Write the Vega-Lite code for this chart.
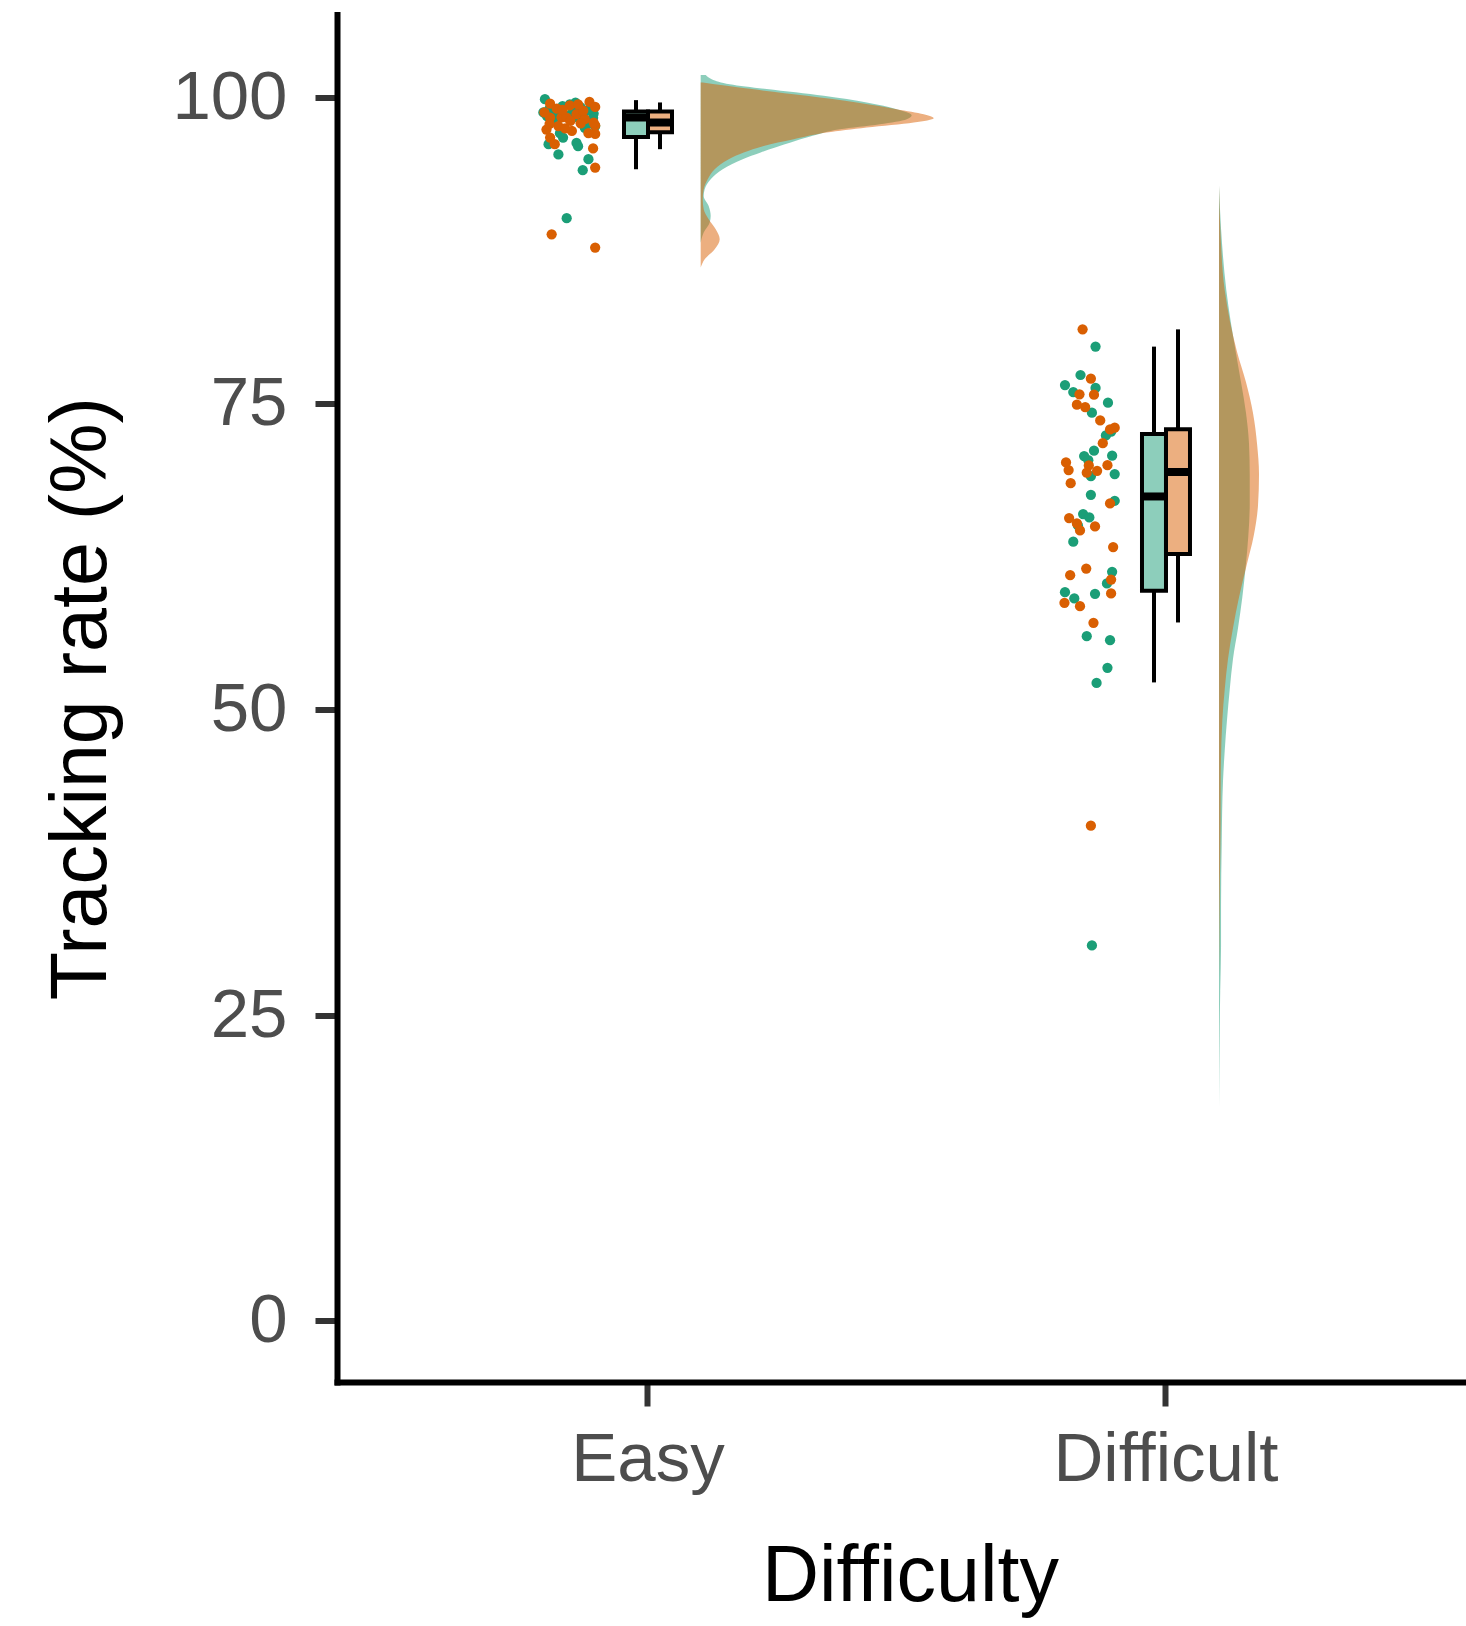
{
  "$schema": "https://vega.github.io/schema/vega-lite/v6.json",
  "width": 1129,
  "height": 1367.5,
  "autosize": {"type": "none"},
  "padding": {"left": 337, "top": 14.5, "right": 0, "bottom": 244},
  "background": "white",
  "config": {
    "view": {"stroke": null},
    "font": "Liberation Sans",
    "axis": {"grid": false},
    "axisY": {"domainColor": "black", "domainWidth": 6, "domainCap": "square", "tickColor": "#333333", "tickWidth": 6, "tickSize": 22,
              "labelFontSize": 69, "labelColor": "#4D4D4D", "labelPadding": 28, "labelFont": "Liberation Sans", "titleFont": "Liberation Sans",
              "titleFontSize": 79, "titleColor": "black", "titleFontWeight": "normal", "titleBaseline": "alphabetic"},
    "axisX": {"domainColor": "black", "domainWidth": 6, "domainCap": "square", "tickColor": "#333333", "tickWidth": 6, "tickSize": 24,
              "labelFontSize": 69, "labelColor": "#4D4D4D", "labelPadding": 19, "labelFont": "Liberation Sans", "titleFont": "Liberation Sans",
              "labelLimit": 1000, "labelAngle": 0,
              "titleFontSize": 79, "titleColor": "black", "titleFontWeight": "normal", "titleBaseline": "alphabetic"}
  },
  "datasets": {
    "points": [
      {"Difficulty": "Easy", "Group": "Group 1", "jitter": -0.199, "rate": 99.88},
      {"Difficulty": "Easy", "Group": "Group 1", "jitter": -0.202, "rate": 98.79},
      {"Difficulty": "Easy", "Group": "Group 1", "jitter": -0.151, "rate": 99.46},
      {"Difficulty": "Easy", "Group": "Group 1", "jitter": -0.135, "rate": 98.9},
      {"Difficulty": "Easy", "Group": "Group 1", "jitter": -0.106, "rate": 98.36},
      {"Difficulty": "Easy", "Group": "Group 1", "jitter": -0.102, "rate": 97.68},
      {"Difficulty": "Easy", "Group": "Group 1", "jitter": -0.122, "rate": 97.54},
      {"Difficulty": "Easy", "Group": "Group 1", "jitter": -0.192, "rate": 96.2},
      {"Difficulty": "Easy", "Group": "Group 1", "jitter": -0.164, "rate": 96.74},
      {"Difficulty": "Easy", "Group": "Group 1", "jitter": -0.138, "rate": 96.3},
      {"Difficulty": "Easy", "Group": "Group 1", "jitter": -0.135, "rate": 96.03},
      {"Difficulty": "Easy", "Group": "Group 1", "jitter": -0.173, "rate": 95.36},
      {"Difficulty": "Easy", "Group": "Group 1", "jitter": -0.115, "rate": 94.97},
      {"Difficulty": "Easy", "Group": "Group 1", "jitter": -0.126, "rate": 94.07},
      {"Difficulty": "Easy", "Group": "Group 1", "jitter": -0.157, "rate": 90.15},
      {"Difficulty": "Easy", "Group": "Group 1", "jitter": -0.17, "rate": 98.38},
      {"Difficulty": "Easy", "Group": "Group 1", "jitter": -0.17, "rate": 97.1},
      {"Difficulty": "Easy", "Group": "Group 1", "jitter": -0.11, "rate": 97.9},
      {"Difficulty": "Easy", "Group": "Group 1", "jitter": -0.185, "rate": 98.1},
      {"Difficulty": "Easy", "Group": "Group 1", "jitter": -0.14, "rate": 98.42},
      {"Difficulty": "Easy", "Group": "Group 1", "jitter": -0.195, "rate": 98.5},
      {"Difficulty": "Easy", "Group": "Group 1", "jitter": -0.125, "rate": 98.55},
      {"Difficulty": "Easy", "Group": "Group 1", "jitter": -0.16, "rate": 98.6},
      {"Difficulty": "Easy", "Group": "Group 1", "jitter": -0.105, "rate": 98.7},
      {"Difficulty": "Easy", "Group": "Group 1", "jitter": -0.18, "rate": 98.8},
      {"Difficulty": "Easy", "Group": "Group 1", "jitter": -0.145, "rate": 98.85},
      {"Difficulty": "Easy", "Group": "Group 1", "jitter": -0.115, "rate": 99.0},
      {"Difficulty": "Easy", "Group": "Group 1", "jitter": -0.19, "rate": 99.1},
      {"Difficulty": "Easy", "Group": "Group 1", "jitter": -0.13, "rate": 99.2},
      {"Difficulty": "Easy", "Group": "Group 1", "jitter": -0.165, "rate": 99.3},
      {"Difficulty": "Easy", "Group": "Group 1", "jitter": -0.14, "rate": 99.6},
      {"Difficulty": "Difficult", "Group": "Group 1", "jitter": -0.136, "rate": 79.65},
      {"Difficulty": "Difficult", "Group": "Group 1", "jitter": -0.165, "rate": 77.33},
      {"Difficulty": "Difficult", "Group": "Group 1", "jitter": -0.195, "rate": 76.51},
      {"Difficulty": "Difficult", "Group": "Group 1", "jitter": -0.136, "rate": 76.27},
      {"Difficulty": "Difficult", "Group": "Group 1", "jitter": -0.179, "rate": 75.94},
      {"Difficulty": "Difficult", "Group": "Group 1", "jitter": -0.112, "rate": 75.07},
      {"Difficulty": "Difficult", "Group": "Group 1", "jitter": -0.143, "rate": 74.25},
      {"Difficulty": "Difficult", "Group": "Group 1", "jitter": -0.106, "rate": 72.7},
      {"Difficulty": "Difficult", "Group": "Group 1", "jitter": -0.116, "rate": 72.39},
      {"Difficulty": "Difficult", "Group": "Group 1", "jitter": -0.139, "rate": 71.14},
      {"Difficulty": "Difficult", "Group": "Group 1", "jitter": -0.158, "rate": 70.7},
      {"Difficulty": "Difficult", "Group": "Group 1", "jitter": -0.104, "rate": 70.73},
      {"Difficulty": "Difficult", "Group": "Group 1", "jitter": -0.15, "rate": 70.37},
      {"Difficulty": "Difficult", "Group": "Group 1", "jitter": -0.145, "rate": 69.06},
      {"Difficulty": "Difficult", "Group": "Group 1", "jitter": -0.099, "rate": 69.23},
      {"Difficulty": "Difficult", "Group": "Group 1", "jitter": -0.145, "rate": 67.54},
      {"Difficulty": "Difficult", "Group": "Group 1", "jitter": -0.099, "rate": 67.05},
      {"Difficulty": "Difficult", "Group": "Group 1", "jitter": -0.16, "rate": 65.96},
      {"Difficulty": "Difficult", "Group": "Group 1", "jitter": -0.148, "rate": 65.69},
      {"Difficulty": "Difficult", "Group": "Group 1", "jitter": -0.17, "rate": 65.03},
      {"Difficulty": "Difficult", "Group": "Group 1", "jitter": -0.179, "rate": 63.7},
      {"Difficulty": "Difficult", "Group": "Group 1", "jitter": -0.104, "rate": 61.24},
      {"Difficulty": "Difficult", "Group": "Group 1", "jitter": -0.114, "rate": 60.29},
      {"Difficulty": "Difficult", "Group": "Group 1", "jitter": -0.195, "rate": 59.58},
      {"Difficulty": "Difficult", "Group": "Group 1", "jitter": -0.137, "rate": 59.44},
      {"Difficulty": "Difficult", "Group": "Group 1", "jitter": -0.177, "rate": 59.06},
      {"Difficulty": "Difficult", "Group": "Group 1", "jitter": -0.153, "rate": 55.98},
      {"Difficulty": "Difficult", "Group": "Group 1", "jitter": -0.108, "rate": 55.65},
      {"Difficulty": "Difficult", "Group": "Group 1", "jitter": -0.113, "rate": 53.39},
      {"Difficulty": "Difficult", "Group": "Group 1", "jitter": -0.134, "rate": 52.16},
      {"Difficulty": "Difficult", "Group": "Group 1", "jitter": -0.143, "rate": 30.7},
      {"Difficulty": "Easy", "Group": "Group 2", "jitter": -0.189, "rate": 99.51},
      {"Difficulty": "Easy", "Group": "Group 2", "jitter": -0.176, "rate": 99.1},
      {"Difficulty": "Easy", "Group": "Group 2", "jitter": -0.151, "rate": 99.37},
      {"Difficulty": "Easy", "Group": "Group 2", "jitter": -0.113, "rate": 99.65},
      {"Difficulty": "Easy", "Group": "Group 2", "jitter": -0.102, "rate": 99.24},
      {"Difficulty": "Easy", "Group": "Group 2", "jitter": -0.189, "rate": 98.37},
      {"Difficulty": "Easy", "Group": "Group 2", "jitter": -0.167, "rate": 98.4},
      {"Difficulty": "Easy", "Group": "Group 2", "jitter": -0.157, "rate": 98.38},
      {"Difficulty": "Easy", "Group": "Group 2", "jitter": -0.138, "rate": 98.65},
      {"Difficulty": "Easy", "Group": "Group 2", "jitter": -0.122, "rate": 98.24},
      {"Difficulty": "Easy", "Group": "Group 2", "jitter": -0.102, "rate": 97.73},
      {"Difficulty": "Easy", "Group": "Group 2", "jitter": -0.196, "rate": 97.39},
      {"Difficulty": "Easy", "Group": "Group 2", "jitter": -0.173, "rate": 97.68},
      {"Difficulty": "Easy", "Group": "Group 2", "jitter": -0.147, "rate": 97.28},
      {"Difficulty": "Easy", "Group": "Group 2", "jitter": -0.189, "rate": 96.74},
      {"Difficulty": "Easy", "Group": "Group 2", "jitter": -0.18, "rate": 96.2},
      {"Difficulty": "Easy", "Group": "Group 2", "jitter": -0.102, "rate": 97.04},
      {"Difficulty": "Easy", "Group": "Group 2", "jitter": -0.106, "rate": 95.85},
      {"Difficulty": "Easy", "Group": "Group 2", "jitter": -0.102, "rate": 94.29},
      {"Difficulty": "Easy", "Group": "Group 2", "jitter": -0.186, "rate": 88.83},
      {"Difficulty": "Easy", "Group": "Group 2", "jitter": -0.102, "rate": 87.75},
      {"Difficulty": "Easy", "Group": "Group 2", "jitter": -0.115, "rate": 97.1},
      {"Difficulty": "Easy", "Group": "Group 2", "jitter": -0.16, "rate": 97.5},
      {"Difficulty": "Easy", "Group": "Group 2", "jitter": -0.19, "rate": 97.85},
      {"Difficulty": "Easy", "Group": "Group 2", "jitter": -0.13, "rate": 97.9},
      {"Difficulty": "Easy", "Group": "Group 2", "jitter": -0.105, "rate": 97.97},
      {"Difficulty": "Easy", "Group": "Group 2", "jitter": -0.15, "rate": 98.1},
      {"Difficulty": "Easy", "Group": "Group 2", "jitter": -0.2, "rate": 98.8},
      {"Difficulty": "Easy", "Group": "Group 2", "jitter": -0.125, "rate": 98.95},
      {"Difficulty": "Easy", "Group": "Group 2", "jitter": -0.165, "rate": 99.0},
      {"Difficulty": "Easy", "Group": "Group 2", "jitter": -0.135, "rate": 99.45},
      {"Difficulty": "Difficult", "Group": "Group 2", "jitter": -0.161, "rate": 81.06},
      {"Difficulty": "Difficult", "Group": "Group 2", "jitter": -0.145, "rate": 77.03},
      {"Difficulty": "Difficult", "Group": "Group 2", "jitter": -0.167, "rate": 75.75},
      {"Difficulty": "Difficult", "Group": "Group 2", "jitter": -0.139, "rate": 75.72},
      {"Difficulty": "Difficult", "Group": "Group 2", "jitter": -0.172, "rate": 74.9},
      {"Difficulty": "Difficult", "Group": "Group 2", "jitter": -0.156, "rate": 74.71},
      {"Difficulty": "Difficult", "Group": "Group 2", "jitter": -0.127, "rate": 73.62},
      {"Difficulty": "Difficult", "Group": "Group 2", "jitter": -0.108, "rate": 72.88},
      {"Difficulty": "Difficult", "Group": "Group 2", "jitter": -0.099, "rate": 73.02},
      {"Difficulty": "Difficult", "Group": "Group 2", "jitter": -0.122, "rate": 71.76},
      {"Difficulty": "Difficult", "Group": "Group 2", "jitter": -0.193, "rate": 70.18},
      {"Difficulty": "Difficult", "Group": "Group 2", "jitter": -0.188, "rate": 69.56},
      {"Difficulty": "Difficult", "Group": "Group 2", "jitter": -0.149, "rate": 69.94},
      {"Difficulty": "Difficult", "Group": "Group 2", "jitter": -0.153, "rate": 69.34},
      {"Difficulty": "Difficult", "Group": "Group 2", "jitter": -0.133, "rate": 69.5},
      {"Difficulty": "Difficult", "Group": "Group 2", "jitter": -0.113, "rate": 69.96},
      {"Difficulty": "Difficult", "Group": "Group 2", "jitter": -0.184, "rate": 68.49},
      {"Difficulty": "Difficult", "Group": "Group 2", "jitter": -0.108, "rate": 66.83},
      {"Difficulty": "Difficult", "Group": "Group 2", "jitter": -0.187, "rate": 65.63},
      {"Difficulty": "Difficult", "Group": "Group 2", "jitter": -0.172, "rate": 65.2},
      {"Difficulty": "Difficult", "Group": "Group 2", "jitter": -0.166, "rate": 64.62},
      {"Difficulty": "Difficult", "Group": "Group 2", "jitter": -0.137, "rate": 64.95},
      {"Difficulty": "Difficult", "Group": "Group 2", "jitter": -0.102, "rate": 63.26},
      {"Difficulty": "Difficult", "Group": "Group 2", "jitter": -0.154, "rate": 61.51},
      {"Difficulty": "Difficult", "Group": "Group 2", "jitter": -0.185, "rate": 60.97},
      {"Difficulty": "Difficult", "Group": "Group 2", "jitter": -0.106, "rate": 60.61},
      {"Difficulty": "Difficult", "Group": "Group 2", "jitter": -0.106, "rate": 59.47},
      {"Difficulty": "Difficult", "Group": "Group 2", "jitter": -0.196, "rate": 58.71},
      {"Difficulty": "Difficult", "Group": "Group 2", "jitter": -0.166, "rate": 58.43},
      {"Difficulty": "Difficult", "Group": "Group 2", "jitter": -0.14, "rate": 57.07},
      {"Difficulty": "Difficult", "Group": "Group 2", "jitter": -0.145, "rate": 40.49}
    ],
    "boxes": [
      {"Difficulty": "Easy", "Group": "Group 1", "lower": 94.15, "q1": 96.79, "median": 98.38, "q3": 98.88, "upper": 99.8},
      {"Difficulty": "Easy", "Group": "Group 2", "lower": 95.79, "q1": 97.18, "median": 97.97, "q3": 98.88, "upper": 99.61},
      {"Difficulty": "Difficult", "Group": "Group 1", "lower": 52.2, "q1": 59.7, "median": 67.4, "q3": 72.5, "upper": 79.65},
      {"Difficulty": "Difficult", "Group": "Group 2", "lower": 57.1, "q1": 62.7, "median": 69.4, "q3": 72.9, "upper": 81.06}
    ],
    "density": [
      {"Difficulty": "Easy", "Group": "Group 1", "rate": 101.85, "density": 0.0097},
      {"Difficulty": "Easy", "Group": "Group 1", "rate": 101.51, "density": 0.0212},
      {"Difficulty": "Easy", "Group": "Group 1", "rate": 101.1, "density": 0.056},
      {"Difficulty": "Easy", "Group": "Group 1", "rate": 100.7, "density": 0.1274},
      {"Difficulty": "Easy", "Group": "Group 1", "rate": 100.15, "density": 0.2375},
      {"Difficulty": "Easy", "Group": "Group 1", "rate": 99.61, "density": 0.3205},
      {"Difficulty": "Easy", "Group": "Group 1", "rate": 99.06, "density": 0.3784},
      {"Difficulty": "Easy", "Group": "Group 1", "rate": 98.57, "density": 0.4073},
      {"Difficulty": "Easy", "Group": "Group 1", "rate": 98.24, "density": 0.3977},
      {"Difficulty": "Easy", "Group": "Group 1", "rate": 97.83, "density": 0.3456},
      {"Difficulty": "Easy", "Group": "Group 1", "rate": 97.42, "density": 0.2683},
      {"Difficulty": "Easy", "Group": "Group 1", "rate": 96.88, "density": 0.2162},
      {"Difficulty": "Easy", "Group": "Group 1", "rate": 96.33, "density": 0.1737},
      {"Difficulty": "Easy", "Group": "Group 1", "rate": 95.52, "density": 0.1158},
      {"Difficulty": "Easy", "Group": "Group 1", "rate": 94.97, "density": 0.0811},
      {"Difficulty": "Easy", "Group": "Group 1", "rate": 94.15, "density": 0.0425},
      {"Difficulty": "Easy", "Group": "Group 1", "rate": 93.33, "density": 0.0193},
      {"Difficulty": "Easy", "Group": "Group 1", "rate": 92.52, "density": 0.0077},
      {"Difficulty": "Easy", "Group": "Group 1", "rate": 91.97, "density": 0.0058},
      {"Difficulty": "Easy", "Group": "Group 1", "rate": 91.15, "density": 0.0154},
      {"Difficulty": "Easy", "Group": "Group 1", "rate": 90.34, "density": 0.0193},
      {"Difficulty": "Easy", "Group": "Group 1", "rate": 89.79, "density": 0.0174},
      {"Difficulty": "Easy", "Group": "Group 1", "rate": 88.97, "density": 0.0058},
      {"Difficulty": "Easy", "Group": "Group 1", "rate": 88.15, "density": 0.0},
      {"Difficulty": "Easy", "Group": "Group 2", "rate": 101.24, "density": 0.0039},
      {"Difficulty": "Easy", "Group": "Group 2", "rate": 100.97, "density": 0.0502},
      {"Difficulty": "Easy", "Group": "Group 2", "rate": 100.7, "density": 0.0985},
      {"Difficulty": "Easy", "Group": "Group 2", "rate": 100.15, "density": 0.2046},
      {"Difficulty": "Easy", "Group": "Group 2", "rate": 99.61, "density": 0.3012},
      {"Difficulty": "Easy", "Group": "Group 2", "rate": 99.06, "density": 0.3784},
      {"Difficulty": "Easy", "Group": "Group 2", "rate": 98.65, "density": 0.4305},
      {"Difficulty": "Easy", "Group": "Group 2", "rate": 98.32, "density": 0.4498},
      {"Difficulty": "Easy", "Group": "Group 2", "rate": 97.97, "density": 0.4112},
      {"Difficulty": "Easy", "Group": "Group 2", "rate": 97.56, "density": 0.3205},
      {"Difficulty": "Easy", "Group": "Group 2", "rate": 97.15, "density": 0.2432},
      {"Difficulty": "Easy", "Group": "Group 2", "rate": 96.61, "density": 0.1795},
      {"Difficulty": "Easy", "Group": "Group 2", "rate": 96.06, "density": 0.1216},
      {"Difficulty": "Easy", "Group": "Group 2", "rate": 95.52, "density": 0.083},
      {"Difficulty": "Easy", "Group": "Group 2", "rate": 94.97, "density": 0.0541},
      {"Difficulty": "Easy", "Group": "Group 2", "rate": 94.15, "density": 0.027},
      {"Difficulty": "Easy", "Group": "Group 2", "rate": 93.33, "density": 0.0135},
      {"Difficulty": "Easy", "Group": "Group 2", "rate": 92.52, "density": 0.0058},
      {"Difficulty": "Easy", "Group": "Group 2", "rate": 91.7, "density": 0.0039},
      {"Difficulty": "Easy", "Group": "Group 2", "rate": 90.88, "density": 0.0058},
      {"Difficulty": "Easy", "Group": "Group 2", "rate": 90.06, "density": 0.0154},
      {"Difficulty": "Easy", "Group": "Group 2", "rate": 89.24, "density": 0.029},
      {"Difficulty": "Easy", "Group": "Group 2", "rate": 88.43, "density": 0.0367},
      {"Difficulty": "Easy", "Group": "Group 2", "rate": 87.61, "density": 0.027},
      {"Difficulty": "Easy", "Group": "Group 2", "rate": 86.79, "density": 0.0077},
      {"Difficulty": "Easy", "Group": "Group 2", "rate": 86.11, "density": 0.0},
      {"Difficulty": "Difficult", "Group": "Group 1", "rate": 92.8, "density": 0.0},
      {"Difficulty": "Difficult", "Group": "Group 1", "rate": 89.28, "density": 0.0039},
      {"Difficulty": "Difficult", "Group": "Group 1", "rate": 84.26, "density": 0.0141},
      {"Difficulty": "Difficult", "Group": "Group 1", "rate": 79.24, "density": 0.0322},
      {"Difficulty": "Difficult", "Group": "Group 1", "rate": 76.73, "density": 0.0425},
      {"Difficulty": "Difficult", "Group": "Group 1", "rate": 74.22, "density": 0.0521},
      {"Difficulty": "Difficult", "Group": "Group 1", "rate": 71.71, "density": 0.0579},
      {"Difficulty": "Difficult", "Group": "Group 1", "rate": 69.2, "density": 0.0593},
      {"Difficulty": "Difficult", "Group": "Group 1", "rate": 66.69, "density": 0.0593},
      {"Difficulty": "Difficult", "Group": "Group 1", "rate": 64.18, "density": 0.0566},
      {"Difficulty": "Difficult", "Group": "Group 1", "rate": 61.67, "density": 0.0515},
      {"Difficulty": "Difficult", "Group": "Group 1", "rate": 59.16, "density": 0.045},
      {"Difficulty": "Difficult", "Group": "Group 1", "rate": 56.65, "density": 0.0367},
      {"Difficulty": "Difficult", "Group": "Group 1", "rate": 54.14, "density": 0.027},
      {"Difficulty": "Difficult", "Group": "Group 1", "rate": 51.63, "density": 0.0207},
      {"Difficulty": "Difficult", "Group": "Group 1", "rate": 49.13, "density": 0.0154},
      {"Difficulty": "Difficult", "Group": "Group 1", "rate": 46.62, "density": 0.011},
      {"Difficulty": "Difficult", "Group": "Group 1", "rate": 44.11, "density": 0.0077},
      {"Difficulty": "Difficult", "Group": "Group 1", "rate": 39.09, "density": 0.0052},
      {"Difficulty": "Difficult", "Group": "Group 1", "rate": 34.07, "density": 0.0039},
      {"Difficulty": "Difficult", "Group": "Group 1", "rate": 30.5, "density": 0.0039},
      {"Difficulty": "Difficult", "Group": "Group 1", "rate": 27.0, "density": 0.0023},
      {"Difficulty": "Difficult", "Group": "Group 1", "rate": 24.03, "density": 0.0014},
      {"Difficulty": "Difficult", "Group": "Group 1", "rate": 17.5, "density": 0.0},
      {"Difficulty": "Difficult", "Group": "Group 2", "rate": 92.8, "density": 0.0},
      {"Difficulty": "Difficult", "Group": "Group 2", "rate": 89.28, "density": 0.0025},
      {"Difficulty": "Difficult", "Group": "Group 2", "rate": 84.26, "density": 0.011},
      {"Difficulty": "Difficult", "Group": "Group 2", "rate": 79.24, "density": 0.0347},
      {"Difficulty": "Difficult", "Group": "Group 2", "rate": 76.73, "density": 0.0521},
      {"Difficulty": "Difficult", "Group": "Group 2", "rate": 74.22, "density": 0.0656},
      {"Difficulty": "Difficult", "Group": "Group 2", "rate": 71.71, "density": 0.0734},
      {"Difficulty": "Difficult", "Group": "Group 2", "rate": 69.2, "density": 0.0772},
      {"Difficulty": "Difficult", "Group": "Group 2", "rate": 66.69, "density": 0.0753},
      {"Difficulty": "Difficult", "Group": "Group 2", "rate": 64.18, "density": 0.067},
      {"Difficulty": "Difficult", "Group": "Group 2", "rate": 61.67, "density": 0.0527},
      {"Difficulty": "Difficult", "Group": "Group 2", "rate": 59.16, "density": 0.0386},
      {"Difficulty": "Difficult", "Group": "Group 2", "rate": 56.65, "density": 0.027},
      {"Difficulty": "Difficult", "Group": "Group 2", "rate": 54.14, "density": 0.0174},
      {"Difficulty": "Difficult", "Group": "Group 2", "rate": 51.63, "density": 0.011},
      {"Difficulty": "Difficult", "Group": "Group 2", "rate": 49.13, "density": 0.0064},
      {"Difficulty": "Difficult", "Group": "Group 2", "rate": 44.11, "density": 0.0033},
      {"Difficulty": "Difficult", "Group": "Group 2", "rate": 40.5, "density": 0.0031},
      {"Difficulty": "Difficult", "Group": "Group 2", "rate": 36.0, "density": 0.0017},
      {"Difficulty": "Difficult", "Group": "Group 2", "rate": 32.0, "density": 0.0008},
      {"Difficulty": "Difficult", "Group": "Group 2", "rate": 28.0, "density": 0.0}
    ]
  },
  "resolve": {"scale": {"x": "independent", "xOffset": "independent"}},
  "layer": [
    {
      "data": {"name": "density"},
      "transform": [{"filter": "datum.Difficulty === 'Easy' && datum.Group === 'Group 1'"}],
      "mark": {"type": "area", "orient": "horizontal", "interpolate": "monotone", "color": "#1B9E77", "fillOpacity": 0.5},
      "encoding": {
        "x": {"field": "density", "type": "quantitative", "scale": {"domain": [-0.7021, 1.4774], "nice": false, "zero": false}, "axis": null},
        "x2": {"datum": 0},
        "y": {"field": "rate", "type": "quantitative", "scale": {"domain": [-4.99, 106.8], "nice": false, "zero": false}, "title": "Tracking rate (%)", "axis": {"values": [0, 25, 50, 75, 100], "titleX": -232}}
      }
    },
    {
      "data": {"name": "density"},
      "transform": [{"filter": "datum.Difficulty === 'Easy' && datum.Group === 'Group 2'"}],
      "mark": {"type": "area", "orient": "horizontal", "interpolate": "monotone", "color": "#D95F02", "fillOpacity": 0.5},
      "encoding": {
        "x": {"field": "density", "type": "quantitative", "scale": {"domain": [-0.7021, 1.4774], "nice": false, "zero": false}, "axis": null},
        "x2": {"datum": 0},
        "y": {"field": "rate", "type": "quantitative", "scale": {"domain": [-4.99, 106.8], "nice": false, "zero": false}, "title": "Tracking rate (%)", "axis": {"values": [0, 25, 50, 75, 100], "titleX": -232}}
      }
    },
    {
      "data": {"name": "density"},
      "transform": [{"filter": "datum.Difficulty === 'Difficult' && datum.Group === 'Group 1'"}],
      "mark": {"type": "area", "orient": "horizontal", "interpolate": "monotone", "color": "#1B9E77", "fillOpacity": 0.5},
      "encoding": {
        "x": {"field": "density", "type": "quantitative", "scale": {"domain": [-1.7027, 0.4768], "nice": false, "zero": false}, "axis": null},
        "x2": {"datum": 0},
        "y": {"field": "rate", "type": "quantitative", "scale": {"domain": [-4.99, 106.8], "nice": false, "zero": false}, "title": "Tracking rate (%)", "axis": {"values": [0, 25, 50, 75, 100], "titleX": -232}}
      }
    },
    {
      "data": {"name": "density"},
      "transform": [{"filter": "datum.Difficulty === 'Difficult' && datum.Group === 'Group 2'"}],
      "mark": {"type": "area", "orient": "horizontal", "interpolate": "monotone", "color": "#D95F02", "fillOpacity": 0.5},
      "encoding": {
        "x": {"field": "density", "type": "quantitative", "scale": {"domain": [-1.7027, 0.4768], "nice": false, "zero": false}, "axis": null},
        "x2": {"datum": 0},
        "y": {"field": "rate", "type": "quantitative", "scale": {"domain": [-4.99, 106.8], "nice": false, "zero": false}, "title": "Tracking rate (%)", "axis": {"values": [0, 25, 50, 75, 100], "titleX": -232}}
      }
    },
    {
      "data": {"name": "points"},
      "mark": {"type": "circle", "size": 105, "opacity": 1},
      "encoding": {
        "x": {"field": "Difficulty", "type": "nominal", "sort": ["Easy", "Difficult"],
              "scale": {"domain": ["Easy", "Difficult"], "paddingInner": 0, "paddingOuter": 0.0898, "align": 0.559, "round": false},
              "title": "Difficulty", "axis": {"titleY": 218, "titleX": 573}},
        "xOffset": {"field": "jitter", "type": "quantitative", "scale": {"domain": [-0.5, 0.5], "range": [0, 518], "zero": false, "nice": false}},
        "y": {"field": "rate", "type": "quantitative", "scale": {"domain": [-4.99, 106.8], "nice": false, "zero": false}, "title": "Tracking rate (%)", "axis": {"values": [0, 25, 50, 75, 100], "titleX": -232}},
        "color": {"field": "Group", "type": "nominal", "scale": {"domain": ["Group 1", "Group 2"], "range": ["#1B9E77", "#D95F02"]}, "legend": null}
      }
    },
    {
      "data": {"name": "boxes"},
      "mark": {"type": "rule", "color": "black", "strokeWidth": 4},
      "encoding": {
        "x": {"field": "Difficulty", "type": "nominal", "scale": {"domain": ["Easy", "Difficult"], "paddingInner": 0, "paddingOuter": 0.0898, "align": 0.559, "round": false}, "axis": null},
        "xOffset": {"field": "Group", "type": "nominal", "scale": {"domain": ["Group 1", "Group 2"], "range": [235, 283], "paddingInner": 0, "paddingOuter": 0}},
        "y": {"field": "lower", "type": "quantitative", "scale": {"domain": [-4.99, 106.8], "nice": false, "zero": false}, "title": "Tracking rate (%)", "axis": {"values": [0, 25, 50, 75, 100], "titleX": -232}},
        "y2": {"field": "q1"}
      }
    },
    {
      "data": {"name": "boxes"},
      "mark": {"type": "rule", "color": "black", "strokeWidth": 4},
      "encoding": {
        "x": {"field": "Difficulty", "type": "nominal", "scale": {"domain": ["Easy", "Difficult"], "paddingInner": 0, "paddingOuter": 0.0898, "align": 0.559, "round": false}, "axis": null},
        "xOffset": {"field": "Group", "type": "nominal", "scale": {"domain": ["Group 1", "Group 2"], "range": [235, 283], "paddingInner": 0, "paddingOuter": 0}},
        "y": {"field": "q3", "type": "quantitative", "scale": {"domain": [-4.99, 106.8], "nice": false, "zero": false}, "title": "Tracking rate (%)", "axis": {"values": [0, 25, 50, 75, 100], "titleX": -232}},
        "y2": {"field": "upper"}
      }
    },
    {
      "data": {"name": "boxes"},
      "mark": {"type": "bar", "fillOpacity": 0.5, "stroke": "black", "strokeWidth": 4},
      "encoding": {
        "x": {"field": "Difficulty", "type": "nominal", "scale": {"domain": ["Easy", "Difficult"], "paddingInner": 0, "paddingOuter": 0.0898, "align": 0.559, "round": false}, "axis": null},
        "xOffset": {"field": "Group", "type": "nominal", "scale": {"domain": ["Group 1", "Group 2"], "range": [235, 283], "paddingInner": 0, "paddingOuter": 0}},
        "y": {"field": "q1", "type": "quantitative", "scale": {"domain": [-4.99, 106.8], "nice": false, "zero": false}, "title": "Tracking rate (%)", "axis": {"values": [0, 25, 50, 75, 100], "titleX": -232}},
        "y2": {"field": "q3"},
        "color": {"field": "Group", "type": "nominal", "scale": {"domain": ["Group 1", "Group 2"], "range": ["#1B9E77", "#D95F02"]}, "legend": null}
      }
    },
    {
      "data": {"name": "boxes"},
      "mark": {"type": "tick", "orient": "horizontal", "thickness": 8, "size": 27, "color": "black", "opacity": 1},
      "encoding": {
        "x": {"field": "Difficulty", "type": "nominal", "scale": {"domain": ["Easy", "Difficult"], "paddingInner": 0, "paddingOuter": 0.0898, "align": 0.559, "round": false}, "axis": null},
        "xOffset": {"field": "Group", "type": "nominal", "scale": {"domain": ["Group 1", "Group 2"], "range": [235, 283], "paddingInner": 0, "paddingOuter": 0}},
        "y": {"field": "median", "type": "quantitative", "scale": {"domain": [-4.99, 106.8], "nice": false, "zero": false}, "title": "Tracking rate (%)", "axis": {"values": [0, 25, 50, 75, 100], "titleX": -232}}
      }
    }
  ]
}
